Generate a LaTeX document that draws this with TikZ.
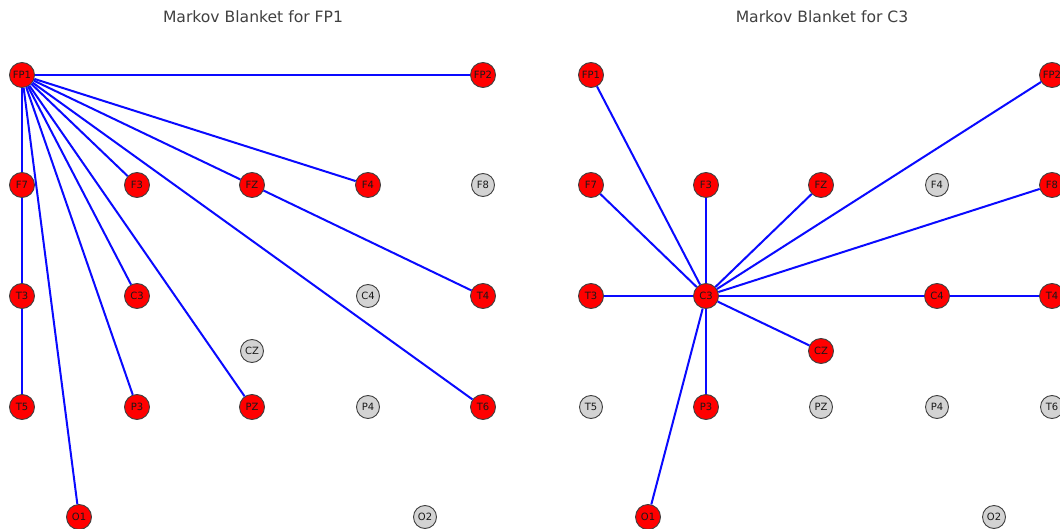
\documentclass[tikz,border=0pt]{standalone}
\usepackage{fontspec}
\setmainfont{DejaVu Sans}
\begin{document}
\begin{tikzpicture}[x=1pt,y=-1pt,
  edge/.style={draw={rgb,255:red,10;green,10;blue,255}, line width=2pt},
  elec/.style={circle, draw=black!75, line width=0.9pt, inner sep=0pt,
               font=\fontsize{10}{10}\selectfont, text=black!90},
  on/.style={elec, fill=red, minimum size=25pt},
  off/.style={elec, fill={rgb,255:red,211;green,211;blue,211}, minimum size=23pt},
  title/.style={font=\fontsize{15.6}{16}\selectfont, text=black!75}]
\useasboundingbox (0,0) rectangle (1060,529);
\clip (0,0) rectangle (1060,529);

% ---------- left panel: FP1 ----------
\node[title] (ta) at (253,17) {Markov Blanket for FP1};
\node[on]  (aFP1) at (22,75)   {FP1};
\node[on]  (aFP2) at (483,75)  {FP2};
\node[on]  (aF7)  at (22,185)  {F7};
\node[on]  (aF3)  at (137,185) {F3};
\node[on]  (aFZ)  at (252,185) {FZ};
\node[on]  (aF4)  at (368,185) {F4};
\node[off] (aF8)  at (483,185) {F8};
\node[on]  (aT3)  at (22,296)  {T3};
\node[on]  (aC3)  at (137,296) {C3};
\node[off] (aC4)  at (368,296) {C4};
\node[on]  (aT4)  at (483,296) {T4};
\node[off] (aCZ)  at (252,351) {CZ};
\node[on]  (aT5)  at (22,407)  {T5};
\node[on]  (aP3)  at (137,407) {P3};
\node[on]  (aPZ)  at (252,407) {PZ};
\node[off] (aP4)  at (368,407) {P4};
\node[on]  (aT6)  at (483,407) {T6};
\node[on]  (aO1)  at (79,517)  {O1};
\node[off] (aO2)  at (425,517) {O2};

\foreach \t in {aFP2,aF7,aF3,aFZ,aF4,aC3,aP3,aPZ,aT6,aO1}
  \draw[edge] (aFP1) -- (\t);
\draw[edge] (aF7) -- (aT3);
\draw[edge] (aT3) -- (aT5);
\draw[edge] (aFZ) -- (aT4);

% ---------- right panel: C3 ----------
\node[title] (tb) at (822,17) {Markov Blanket for C3};
\node[on]  (bFP1) at (591,75)   {FP1};
\node[on]  (bFP2) at (1052,75)  {FP2};
\node[on]  (bF7)  at (591,185)  {F7};
\node[on]  (bF3)  at (706,185)  {F3};
\node[on]  (bFZ)  at (821,185)  {FZ};
\node[off] (bF4)  at (937,185)  {F4};
\node[on]  (bF8)  at (1052,185) {F8};
\node[on]  (bT3)  at (591,296)  {T3};
\node[on]  (bC3)  at (706,296)  {C3};
\node[on]  (bC4)  at (937,296)  {C4};
\node[on]  (bT4)  at (1052,296) {T4};
\node[on]  (bCZ)  at (821,351)  {CZ};
\node[off] (bT5)  at (591,407)  {T5};
\node[on]  (bP3)  at (706,407)  {P3};
\node[off] (bPZ)  at (821,407)  {PZ};
\node[off] (bP4)  at (937,407)  {P4};
\node[off] (bT6)  at (1052,407) {T6};
\node[on]  (bO1)  at (648,517)  {O1};
\node[off] (bO2)  at (994,517)  {O2};

\foreach \t in {bFP1,bFP2,bF7,bF3,bFZ,bF8,bT3,bC4,bCZ,bP3,bO1}
  \draw[edge] (bC3) -- (\t);
\draw[edge] (bC4) -- (bT4);
\end{tikzpicture}
\end{document}
